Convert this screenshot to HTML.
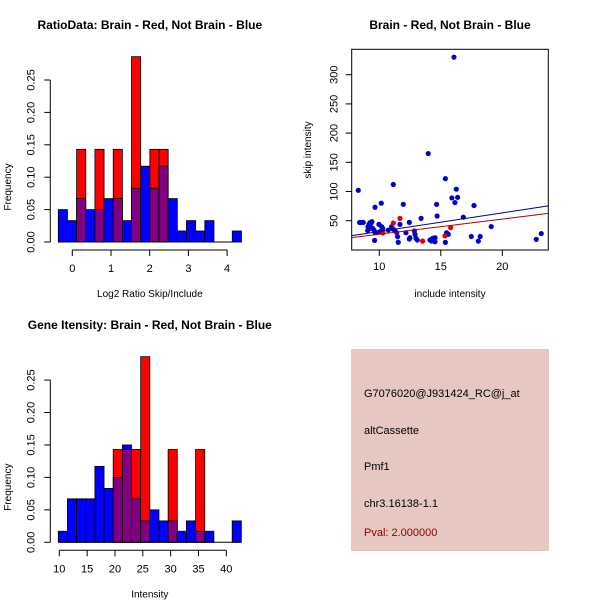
<!DOCTYPE html>
<html><head><meta charset="utf-8"><style>
body{margin:0;background:#fff}
svg{display:block;font-family:"Liberation Sans",sans-serif}
</style></head><body>
<svg id="c" width="600" height="600" xmlns="http://www.w3.org/2000/svg">
<rect x="0" y="0" width="600" height="600" fill="#fff"/>
<g>
<rect x="351" y="349" width="198" height="202" fill="#E6C7C1"/>
<text x="364" y="397" font-size="11" fill="#000">G7076020@J931424_RC@j_at</text>
<text x="364" y="434" font-size="11" fill="#000">altCassette</text>
<text x="364" y="470" font-size="11" fill="#000">Pmf1</text>
<text x="364" y="507" font-size="11" fill="#000">chr3.16138-1.1</text>
<text x="364" y="536" font-size="11" fill="#8B0000">Pval: 2.000000</text>
</g>
</svg>
<script>
// Histogram 1: ratio data
const ratioBinStart = -0.362, ratioBinWidth = 0.2366;
const ratioBlue = [0.05,0.033,0.067,0.05,0.05,0.067,0.067,0.033,0.083,0.117,0.083,0.117,0.067,0.017,0.033,0.017,0.033,0,0,0.017];
const ratioRed  = [0,0,0.143,0,0.143,0,0.143,0,0.286,0,0.143,0.143,0,0,0,0,0,0,0,0];
const ratioXTicks = [0,1,2,3,4];
// Histogram 2: intensity
const intBinStart = 9.82, intBinWidth = 1.644;
const intBlue = [0.017,0.067,0.067,0.067,0.117,0.083,0.1,0.15,0.067,0.033,0.05,0.033,0.033,0.017,0.033,0.017,0.017,0,0,0.033];
const intRed  = [0,0,0,0,0,0,0.143,0.143,0.143,0.286,0,0,0.143,0,0,0.143,0,0,0,0];
const intXTicks = [10,15,20,25,30,35,40];
const freqTicks = ["0.00","0.05","0.10","0.15","0.20","0.25"];
// Scatter
const blueX = [8.29,8.4,8.56,8.7,9.65,10.16,11.14,11.95,13.4,13.98,14.66,14.7,15.37,16.26,16.37,15.9,16.15,16.07,16.83,17.48,17.7,18.05,18.2,19.1,22.76,23.17,
 9.08,9.16,9.24,9.32,9.4,9.05,9.24,9.46,9.57,9.67,9.97,10.19,10.27,10.05,9.84,9.62,10.73,11.0,11.14,11.27,11.41,11.49,11.54,11.68,12.17,12.44,12.44,12.49,12.85,12.9,12.98,13.09,14.12,14.25,14.34,14.53,14.53,15.37,15.47,15.61];
const blueY = [102,47,47,47,73,80,112,78,54,165,78,58,122,104,90,89,81,330,56,23,76,15,23,40,18,28,
 39.7,43.7,46.6,45.4,48.3,32.9,36.9,36.9,34,29.5,43.7,39.7,36.9,31.2,29.5,16.3,34,39.7,35.2,32.9,29.5,22.6,12.9,43.7,29.5,47.1,18.6,20.9,32.3,26.6,19.8,16.9,16.9,15.2,19.8,20.9,14,12.9,29.5,26.6];
const redX = [11.68,11.14,10.3,13.52,15.34,15.8];
const redY = [54,46,29,15,24,38];
const blueFit = [-0.4,3.19];
const redFit = [0.85,2.6];
const scXTicks = [10,15,20];
const scYTicks = [50,100,150,200,250,300];

const svg = document.getElementById('c');
const NS = 'http://www.w3.org/2000/svg';
function mk(tag, attrs, parent){ const e=document.createElementNS(NS,tag); for(const k in attrs) e.setAttribute(k,attrs[k]); (parent||svg).appendChild(e); return e; }
function txt(s, attrs, parent){ const e=mk('text',attrs,parent); e.textContent=s; return e; }

function hist(g, binStart, binW, blue, red, xTicks, xs, ys, xLabel, title, titleY){
  for(let i=0;i<blue.length;i++){
    const x0=xs(binStart+i*binW), x1=xs(binStart+(i+1)*binW);
    const b=blue[i], r=red[i], hi=Math.max(b,r), lo=Math.min(b,r);
    if(hi>0){
      const bar=mk('rect',{x:x0,y:ys(hi),width:x1-x0,height:ys(0)-ys(hi),fill:b>=r?'#0000FF':'#FF0000',stroke:'#000','stroke-width':0.8},g);
      
      
    }
    if(lo>0){
      const ov=mk('rect',{x:x0,y:ys(lo),width:x1-x0,height:ys(0)-ys(lo),fill:'#800080',stroke:'#000','stroke-width':0.8},g);
      
      
    }
  }
  const y0=ys(0);
  const base=mk('line',{x1:xs(binStart),x2:xs(binStart+blue.length*binW),y1:y0,y2:y0,stroke:'#000'},g);
  
  
  const axY=y0+8;
  const xa=mk('line',{x1:xs(xTicks[0]),x2:xs(xTicks[xTicks.length-1]),y1:axY,y2:axY,stroke:'#000'},g);
  
  
  xTicks.forEach(t=>{
    mk('line',{x1:xs(t),x2:xs(t),y1:axY,y2:axY+6,stroke:'#000'},g);
    const l=txt(String(t),{x:xs(t),y:axY+22,'font-size':11,'text-anchor':'middle'},g);
    
    
  });
  const axX=xs(binStart)-8;
  const ya=mk('line',{x1:axX,x2:axX,y1:ys(0),y2:ys(0.25),stroke:'#000'},g);
  
  
  freqTicks.forEach(s=>{
    const v=parseFloat(s), yy=ys(v);
    mk('line',{x1:axX-6,x2:axX,y1:yy,y2:yy,stroke:'#000'},g);
    const l=txt(s,{x:axX-16,y:yy,'font-size':11,'text-anchor':'middle',transform:`rotate(-90 ${axX-16} ${yy})`},g);
    
    
  });
  const my=(ys(0)+ys(0.25))/2+26;
  const yl=txt('Frequency',{x:11,y:my,'font-size':10,'text-anchor':'middle',transform:`rotate(-90 11 ${my})`},g);
  
  
  const xl=txt(xLabel,{x:(xs(binStart)+xs(binStart+blue.length*binW))/2,y:axY+47,'font-size':10,'text-anchor':'middle'},g);
  
  
  const tt=txt(title,{x:(xs(binStart)+xs(binStart+blue.length*binW))/2,y:titleY,'font-size':12,'font-weight':'bold','text-anchor':'middle'},g);
  
  
}

const g1=mk('g',{});


hist(g1, ratioBinStart, ratioBinWidth, ratioBlue, ratioRed, ratioXTicks,
  v=>72.3+v*38.7, v=>242-v*648, 'Log2 Ratio Skip/Include', 'RatioData: Brain - Red, Not Brain - Blue', 29);

const g2=mk('g',{});


hist(g2, intBinStart, intBinWidth, intBlue, intRed, intXTicks,
  v=>59.3+(v-10)*5.567, v=>542.3-v*649, 'Intensity', 'Gene Itensity: Brain - Red, Not Brain - Blue', 329);

const g3=mk('g',{});


const sx=v=>379.3+(v-10)*12.3, sy=v=>220.7-(v-50)*0.584;
const L=351.7,R=548.3,T=49.3,B=250;
const frame=mk('rect',{x:L,y:T,width:R-L,height:B-T,fill:'none',stroke:'#000'},g3);


scXTicks.forEach(t=>{
  mk('line',{x1:sx(t),x2:sx(t),y1:B,y2:B+6,stroke:'#000'},g3);
  const l=txt(String(t),{x:sx(t),y:B+20,'font-size':11,'text-anchor':'middle'},g3);
  
  
});
scYTicks.forEach(t=>{
  const yy=sy(t);
  mk('line',{x1:L-6,x2:L,y1:yy,y2:yy,stroke:'#000'},g3);
  const l=txt(String(t),{x:L-14,y:yy,'font-size':11,'text-anchor':'middle',transform:`rotate(-90 ${L-14} ${yy})`},g3);
  
  
});
const sxl=txt('include intensity',{x:(L+R)/2,y:297,'font-size':10,'text-anchor':'middle'},g3);


const syl=txt('skip intensity',{x:311,y:150,'font-size':10,'text-anchor':'middle',transform:'rotate(-90 311 150)'},g3);


const stt=txt('Brain - Red, Not Brain - Blue',{x:(L+R)/2,y:29,'font-size':12,'font-weight':'bold','text-anchor':'middle'},g3);


const clip=mk('clipPath',{id:'sc'});
mk('rect',{x:L,y:T,width:R-L,height:B-T},clip);
const pts=mk('g',{'clip-path':'url(#sc)'},g3);


blueX.forEach((x,i)=>{
  const c=mk('circle',{cx:sx(x),cy:sy(blueY[i]),r:2.6,fill:'#0000CD'},pts);
  
  
});
redX.forEach((x,i)=>{
  const c=mk('circle',{cx:sx(x),cy:sy(redY[i]),r:2.6,fill:'#E00000'},pts);
  
  
});
const xmin=7.76,xmax=23.74;
const bl=mk('line',{x1:sx(xmin),y1:sy(blueFit[0]+blueFit[1]*xmin),x2:sx(xmax),y2:sy(blueFit[0]+blueFit[1]*xmax),stroke:'#000080','stroke-width':1},pts);


const rl=mk('line',{x1:sx(xmin),y1:sy(redFit[0]+redFit[1]*xmin),x2:sx(xmax),y2:sy(redFit[0]+redFit[1]*xmax),stroke:'#B00000','stroke-width':1},pts);


</script>
</body></html>
